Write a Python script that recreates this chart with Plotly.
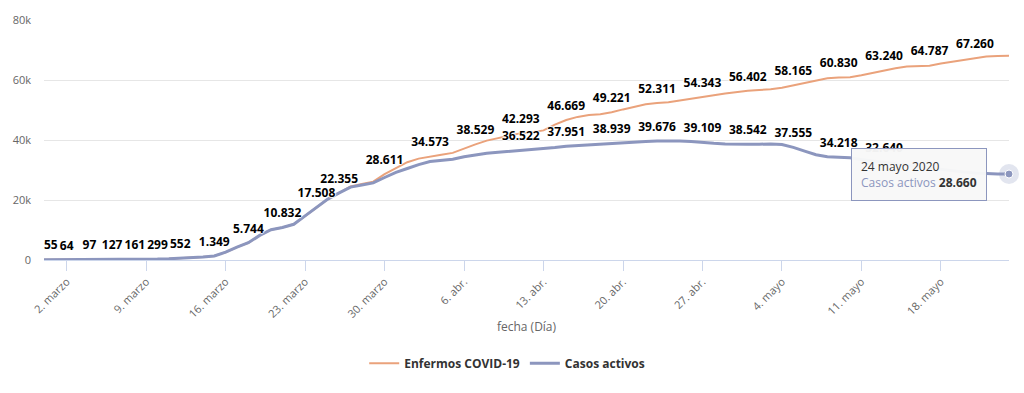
import pandas as pd
import plotly.graph_objects as go

# ---------------- data ----------------
fechas = pd.date_range("2020-02-29", "2020-05-24", freq="D")

enfermos = [
    55, 60, 64, 80, 97, 112, 127, 144, 161, 230, 299, 410, 552, 780, 1010,
    1349, 2600, 4300, 5744, 8200, 10100, 10832, 11900, 14700, 17508, 20300,
    22355, 24500, 25300, 26100, 28611, 30700,
    32600, 33800, 34573, 35100, 35700, 37200, 38529, 39800, 40700, 41600,
    42293, 42600, 43200, 45100, 46669, 47700, 48300, 48600, 49221, 50200,
    51000, 51900, 52311, 52600, 53200, 53700, 54343, 54900, 55500, 56000,
    56402, 56700, 56900, 57400, 58165, 58900, 59700, 60600, 60830, 60950,
    61600, 62400, 63240, 63900, 64500, 64700, 64787, 65500, 66100, 66800,
    67260, 67800, 68000, 68050,
]

activos = [
    55, 60, 64, 80, 97, 112, 127, 144, 161, 230, 299, 410, 552, 780, 1010,
    1349, 2600, 4300, 5744, 8200, 10100, 10832, 11900, 14700, 17508, 20300,
    22355, 24300, 25000, 25700, 27500, 29200,
    30500, 31800, 32800, 33200, 33600, 34400, 35100, 35600, 35900, 36200,
    36522, 36800, 37000, 37500, 37951, 38200, 38500, 38700, 38939, 39100,
    39300, 39500, 39676, 39800, 39700, 39500, 39109, 38900, 38700, 38500,
    38542, 38600, 38700, 38500, 37555, 36300, 35100, 34400, 34218, 34100,
    33500, 33100, 32640, 32100, 31600, 31100, 30600, 30100, 29700, 29300,
    29000, 28800, 28700, 28660,
]

etiquetas_enfermos = [
    "2020-02-29", "2020-03-02", "2020-03-04", "2020-03-06", "2020-03-08",
    "2020-03-10", "2020-03-12", "2020-03-15", "2020-03-18", "2020-03-21",
    "2020-03-24", "2020-03-26", "2020-03-30", "2020-04-03", "2020-04-07",
    "2020-04-11", "2020-04-15", "2020-04-19", "2020-04-23", "2020-04-27",
    "2020-05-01", "2020-05-05", "2020-05-09", "2020-05-13", "2020-05-17",
    "2020-05-21",
]
etiquetas_activos = [
    "2020-04-11", "2020-04-15", "2020-04-19", "2020-04-23", "2020-04-27",
    "2020-05-01", "2020-05-05", "2020-05-09", "2020-05-13",
]

tick_fechas = [
    "2020-03-02", "2020-03-09", "2020-03-16", "2020-03-23", "2020-03-30",
    "2020-04-06", "2020-04-13", "2020-04-20", "2020-04-27", "2020-05-04",
    "2020-05-11", "2020-05-18",
]
tick_textos = [
    "2. marzo", "9. marzo", "16. marzo", "23. marzo", "30. marzo",
    "6. abr.", "13. abr.", "20. abr.", "27. abr.", "4. mayo",
    "11. mayo", "18. mayo",
]
y_ticks = [0, 20000, 40000, 60000, 80000]
y_tick_textos = ["0", "20k", "40k", "60k", "80k"]

serie_nombres = ["Enfermos COVID-19", "Casos activos"]
meses = {1: "enero", 2: "febrero", 3: "marzo", 4: "abril", 5: "mayo"}

COL_NAR = "#eaa27b"
COL_AZ = "#8c96be"


def fmt(v):
    return f"{v:,}".replace(",", ".")


def textos(valores, etiquetas, saltar_primero=False):
    ets = set(pd.to_datetime(etiquetas))
    out = [fmt(v) if d in ets else "" for d, v in zip(fechas, valores)]
    if saltar_primero:
        out[0] = ""
    return out


outline = ("1px 0px 1px #fff, -1px 0px 1px #fff, 0px 1px 1px #fff, "
           "0px -1px 1px #fff")
label_font = dict(family="Open Sans", size=12, color="#000", weight=700,
                  shadow=outline)
# invisible markers only push the labels a little above the line
ghost = dict(size=10, opacity=0)

fig = go.Figure()
fig.add_trace(go.Scatter(x=fechas, y=enfermos, mode="lines",
                         name=serie_nombres[0],
                         line=dict(color=COL_NAR, width=2)))
fig.add_trace(go.Scatter(x=fechas, y=activos, mode="lines",
                         name=serie_nombres[1],
                         line=dict(color=COL_AZ, width=3)))
fig.add_trace(go.Scatter(x=fechas, y=enfermos, mode="markers+text",
                         marker=ghost,
                         text=textos(enfermos, etiquetas_enfermos, True),
                         textposition="top center", textfont=label_font,
                         showlegend=False, cliponaxis=False))
fig.add_trace(go.Scatter(x=fechas, y=activos, mode="markers+text",
                         marker=ghost,
                         text=textos(activos, etiquetas_activos),
                         textposition="top center", textfont=label_font,
                         showlegend=False, cliponaxis=False))
# first label is pushed inside the plot area (as the original does)
fig.add_annotation(x=fechas[0], y=enfermos[0], xref="x", yref="y",
                   text=fmt(enfermos[0]), showarrow=False,
                   xanchor="left", yanchor="bottom", yshift=5, xshift=-2,
                   font=label_font)
# hovered point
fig.add_trace(go.Scatter(x=[fechas[-1]], y=[activos[-1]], mode="markers",
                         marker=dict(size=20, color="rgba(140,150,190,0.25)"),
                         showlegend=False, cliponaxis=False))
fig.add_trace(go.Scatter(x=[fechas[-1]], y=[activos[-1]], mode="markers",
                         marker=dict(size=8, color=COL_AZ,
                                     line=dict(color="#fff", width=1)),
                         showlegend=False, cliponaxis=False))

d = fechas[-1]
tooltip = (f"{d.day} {meses[d.month]} {d.year}<br>"
           f"<span style='color:{COL_AZ}'>{serie_nombres[1]}</span> "
           f"<b>{fmt(activos[-1])}</b>")
fig.add_annotation(x=fechas[-1], y=activos[-1], xref="x", yref="y",
                   text=tooltip, showarrow=True, ax=-22, ay=0,
                   xanchor="right", yanchor="middle", align="left",
                   bgcolor="rgba(248,248,248,0.97)", bordercolor=COL_AZ,
                   borderwidth=1, borderpad=9,
                   font=dict(family="Open Sans", size=12, color="#333"),
                   arrowhead=0, arrowwidth=1, arrowcolor=COL_AZ, standoff=6)

fig.update_layout(
    width=1024, height=393,
    margin=dict(l=44, r=15, t=13, b=133),
    paper_bgcolor="#fff", plot_bgcolor="#fff",
    font=dict(family="Open Sans", color="#666"),
    hovermode=False,
    legend=dict(orientation="h", x=0.48, xanchor="center", y=-0.43,
                yanchor="middle",
                font=dict(family="Open Sans", size=12, color="#333",
                          weight=700),
                itemwidth=30),
)
fig.update_xaxes(
    type="date", range=[fechas[0], fechas[-1]],
    tickvals=pd.to_datetime(tick_fechas), ticktext=tick_textos,
    tickangle=-45, ticks="outside", ticklen=10, tickcolor="#ccd6eb",
    showline=True, linecolor="#ccd6eb", linewidth=1, showgrid=False,
    zeroline=False, tickfont=dict(size=11, color="#666"),
    title=dict(text="fecha (Día)", font=dict(size=12, color="#666"),
               standoff=2),
)
fig.update_yaxes(
    range=[0, 80000], tickvals=y_ticks, ticktext=y_tick_textos,
    showgrid=True, gridcolor="#e6e6e6", zeroline=False, showline=False,
    tickfont=dict(size=11, color="#666"), ticklabelstandoff=12,
)

fig.write_html("out.html",
               config={"displayModeBar": False},
               post_script="document.body.style.margin='0';"
                           "document.body.style.overflow='hidden';")
